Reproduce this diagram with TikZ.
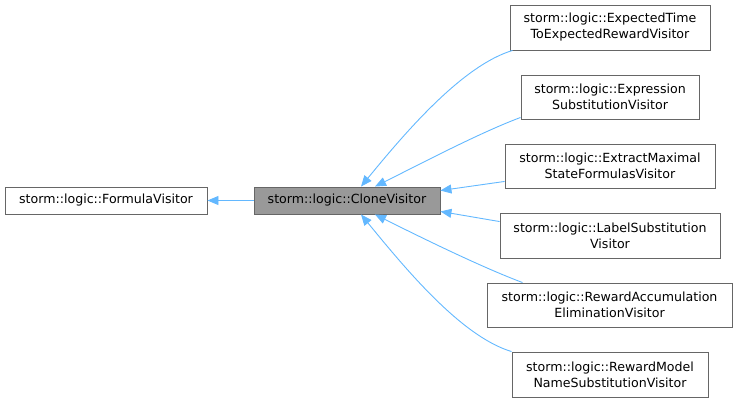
\documentclass[tikz,border=0pt]{standalone}
\usepackage{fontspec}
\setmainfont{DejaVu Sans}
\usetikzlibrary{arrows.meta}
\definecolor{edgeblue}{HTML}{63B8FF}
\definecolor{boxborder}{HTML}{666666}
\definecolor{boxgray}{HTML}{999999}
\tikzset{
  cls/.style={draw=boxborder, fill=white, line width=0.9pt, inner sep=0pt, align=center,
    font=\fontsize{12.6}{16}\selectfont, text=black},
  inh/.style={draw=edgeblue, line width=0.9pt, -{Triangle[length=11pt,width=9pt,fill=edgeblue]}},
}
\begin{document}
\begin{tikzpicture}[x=1pt,y=-1pt]
\useasboundingbox (0,0) rectangle (738,402);
\node[cls, minimum width=202pt, minimum height=27pt] (fv) at (106,200.5) {storm::logic::FormulaVisitor};
\node[cls, fill=boxgray, minimum width=186pt, minimum height=27pt] (cv) at (347,200.5) {storm::logic::CloneVisitor};
\node[cls, minimum width=200pt, minimum height=45pt] (et) at (610,27.5) {storm::logic::ExpectedTime\\ToExpectedRewardVisitor};
\node[cls, minimum width=178pt, minimum height=44pt] (ex) at (610,97) {storm::logic::Expression\\SubstitutionVisitor};
\node[cls, minimum width=210pt, minimum height=44pt] (em) at (610,166) {storm::logic::ExtractMaximal\\StateFormulasVisitor};
\node[cls, minimum width=220pt, minimum height=45pt] (ls) at (610,235.5) {storm::logic::LabelSubstitution\\Visitor};
\node[cls, minimum width=245pt, minimum height=44pt] (ra) at (609.5,305) {storm::logic::RewardAccumulation\\EliminationVisitor};
\node[cls, minimum width=196pt, minimum height=45pt] (rm) at (610,374.5) {storm::logic::RewardModel\\NameSubstitutionVisitor};

\draw[inh] (cv.west) -- (fv.east);
\draw[inh] ([xshift=3pt]et.south west) .. controls +(-50,15) and +(45,-55) .. ([xshift=14pt]cv.north);
\draw[inh] ([yshift=2pt]ex.south west) .. controls +(-40,15) and +(50,-25) .. ([xshift=28pt]cv.north);
\draw[inh] ([yshift=7pt]em.south west) -- ([yshift=-4pt]cv.north east);
\draw[inh] ([yshift=-9pt]ls.north west) -- ([yshift=3pt]cv.south east);
\draw[inh] ([xshift=36pt]ra.north west) .. controls +(-40,-15) and +(50,25) .. ([xshift=28pt]cv.south);
\draw[inh] (rm.north west) .. controls +(-50,-15) and +(45,55) .. ([xshift=14pt]cv.south);
\end{tikzpicture}
\end{document}
